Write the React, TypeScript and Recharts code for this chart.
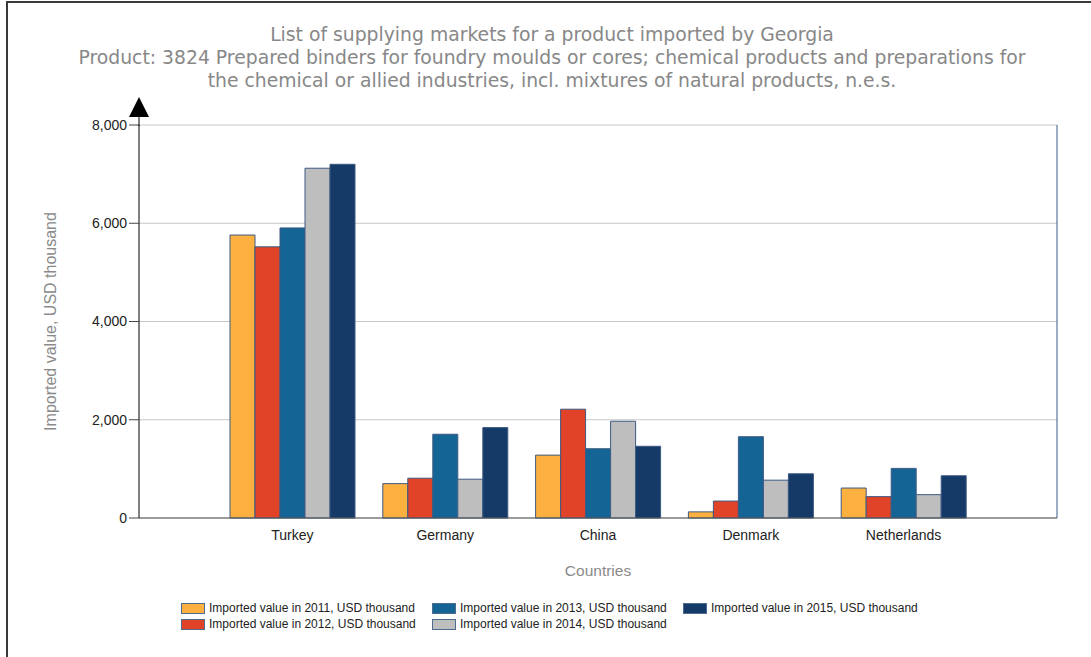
import React from "react";
import {
  BarChart,
  Bar,
  XAxis,
  YAxis,
  CartesianGrid,
} from "recharts";

const COUNTRIES = ["Turkey", "Germany", "China", "Denmark", "Netherlands"];

const V2011 = [5760, 700, 1280, 125, 610];
const V2012 = [5520, 810, 2215, 345, 435];
const V2013 = [5905, 1705, 1410, 1655, 1010];
const V2014 = [7120, 790, 1970, 770, 475];
const V2015 = [7200, 1840, 1460, 900, 860];

const Y_TICKS = [0, 2000, 4000, 6000, 8000];

const SERIES = [
  { key: "y2011", name: "Imported value in 2011, USD thousand", color: "#fbb040", values: V2011 },
  { key: "y2012", name: "Imported value in 2012, USD thousand", color: "#e04327", values: V2012 },
  { key: "y2013", name: "Imported value in 2013, USD thousand", color: "#156496", values: V2013 },
  { key: "y2014", name: "Imported value in 2014, USD thousand", color: "#bebebe", values: V2014 },
  { key: "y2015", name: "Imported value in 2015, USD thousand", color: "#163a68", values: V2015 },
];

const TITLE = [
  "List of supplying markets for a product imported by Georgia",
  "Product: 3824 Prepared binders for foundry moulds or cores; chemical products and preparations for",
  "the chemical or allied industries, incl. mixtures of natural products, n.e.s.",
];

const data = COUNTRIES.map((c, i) => {
  const row: Record<string, string | number> = { country: c };
  for (const s of SERIES) row[s.key] = s.values[i];
  return row;
});

const ARIAL = "'Liberation Sans', Arial, sans-serif";

// legend is laid out column by column, two rows each
const LEGEND_COLS = [
  [SERIES[0], SERIES[1]],
  [SERIES[2], SERIES[3]],
  [SERIES[4]],
];

export default function App() {
  return (
    <div
      style={{
        position: "absolute",
        left: 0,
        top: 0,
        width: 1091,
        height: 657,
        background: "#fff",
        overflow: "hidden",
      }}
    >
      {/* outer frame */}
      <div
        style={{
          position: "absolute",
          left: 6,
          top: 1,
          right: -10,
          bottom: -10,
          borderTop: "2px solid #3a3a3a",
          borderLeft: "2px solid #3a3a3a",
        }}
      />

      <div
        style={{
          position: "absolute",
          left: 0,
          top: 23,
          width: 1104,
          textAlign: "center",
          fontFamily: "'DejaVu Sans', Verdana, sans-serif",
          fontSize: 18.8,
          lineHeight: "23px",
          color: "#888",
          whiteSpace: "nowrap",
        }}
      >
        {TITLE.map((t) => (
          <div key={t}>{t}</div>
        ))}
      </div>

      <div style={{ position: "absolute", left: 0, top: 0 }}>
        <BarChart
          width={1091}
          height={657}
          data={data}
          margin={{ top: 125, right: 33, left: 0, bottom: 79 }}
          barCategoryGap={14}
          barGap={0}
        >
          <CartesianGrid vertical={false} stroke="#c8c8c8" />
          <XAxis
            dataKey="country"
            padding={{ left: 77, right: 77 }}
            tickLine={false}
            axisLine={{ stroke: "#555" }}
            tick={{ fontFamily: ARIAL, fontSize: 14, fill: "#222" }}
            tickMargin={6}
            height={60}
            label={{
              value: "Countries",
              position: "insideBottom",
              offset: 2,
              style: { fontFamily: ARIAL, fontSize: 15.5, fill: "#8a8a8a" },
            }}
          />
          <XAxis
            xAxisId="top"
            orientation="top"
            dataKey="country"
            tick={false}
            tickLine={false}
            axisLine={{ stroke: "#3b5c88" }}
            height={0}
          />
          <YAxis
            domain={[0, 8000]}
            ticks={Y_TICKS}
            width={139}
            tickSize={10}
            axisLine={{ stroke: "#000" }}
            tickLine={{ stroke: "#444" }}
            tick={{ fontFamily: ARIAL, fontSize: 14, fill: "#222" }}
            tickFormatter={(v: number) => v.toLocaleString("en-US")}
            label={({ viewBox }: any) => (
              <text
                x={50}
                y={viewBox.y + viewBox.height / 2}
                transform={`rotate(-90, 50, ${viewBox.y + viewBox.height / 2})`}
                textAnchor="middle"
                dominantBaseline="central"
                fontFamily={ARIAL}
                fontSize={16}
                fill="#8a8a8a"
              >
                Imported value, USD thousand
              </text>
            )}
          />
          <YAxis
            yAxisId="right"
            orientation="right"
            domain={[0, 8000]}
            width={1}
            tick={false}
            tickLine={false}
            axisLine={{ stroke: "#3b5c88" }}
          />
          {SERIES.map((s) => (
            <Bar
              key={s.key}
              dataKey={s.key}
              name={s.name}
              fill={s.color}
              stroke="#3d5a82"
              strokeWidth={1}
              isAnimationActive={false}
            />
          ))}
        </BarChart>
      </div>

      {/* axis arrow */}
      <svg
        style={{ position: "absolute", left: 0, top: 0 }}
        width={1091}
        height={657}
        pointerEvents="none"
      >
        <line x1={139} y1={115} x2={139} y2={126} stroke="#000" />
        <polygon points="139,97 129,117 149,117" fill="#000" />
      </svg>

      {/* legend */}
      <div
        style={{
          position: "absolute",
          left: 181,
          top: 600,
          display: "flex",
          fontFamily: ARIAL,
          fontSize: 12,
          color: "#222",
        }}
      >
        {LEGEND_COLS.map((col, ci) => (
          <div key={ci} style={{ width: 251 }}>
            {col.map((s) => (
              <div
                key={s.key}
                style={{ display: "flex", alignItems: "center", height: 16 }}
              >
                <span
                  style={{
                    display: "inline-block",
                    width: 22,
                    height: 9,
                    background: s.color,
                    border: "1px solid #4f6b90",
                    marginRight: 4,
                  }}
                />
                <span>{s.name}</span>
              </div>
            ))}
          </div>
        ))}
      </div>
    </div>
  );
}
